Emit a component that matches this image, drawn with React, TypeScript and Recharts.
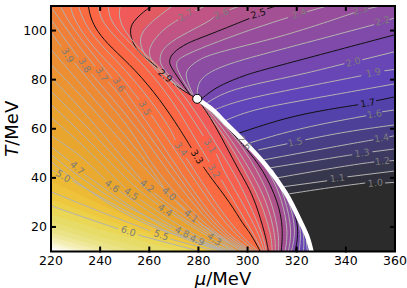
import {
  Label,
  ReferenceDot,
  Scatter,
  ScatterChart,
  XAxis,
  YAxis,
} from 'recharts';

type Pt = [number, number];
type Segs = Pt[][];

const FONT = '"DejaVu Sans", sans-serif';

const xTicks = [220, 240, 260, 280, 300, 320, 340, 360];
const yTicks = [20, 40, 60, 80, 100];
const innerXTicks = [240, 260, 280, 300, 320, 340];
const frame: Pt[] = [[220, 10], [360, 10], [360, 110], [220, 110], [220, 10]];
const TICK_LEN = 1.6; // in axis units, about 4px on both axes

// ── contours, [mu, T], one list per gap-separated piece ──
// part above / right of the phase line
const r10: Segs = [[[317, 33.5], [333.7, 36.1], [347.9, 37.9]], [[356, 37.9], [360, 38.2]]];
const r11: Segs = [[[314.1, 36.3], [332.4, 38.8]], [[340.6, 40.4], [360, 42.8]]];
const r12: Segs = [[[312.1, 40], [339.8, 44.9], [351.6, 46.5]], [[357.7, 46.9], [360, 47.1]]];
const r13: Segs = [[[309.3, 44.1], [339.8, 49], [342.6, 49.4]], [[350.8, 50.6], [360, 51.8]]];
const r14: Segs = [[[306.4, 47.3], [339.8, 53.5], [351.2, 55.5]], [[357.7, 56.7], [360, 57.2]]];
const r15: Segs = [[[304.4, 51.4], [316.2, 53.9]], [[323.5, 55.5], [339.8, 58.8], [360, 61.6]]];
const r16: Segs = [[[301.1, 54.3], [321.5, 60.4], [348.3, 65.3]], [[354.8, 66.9], [360, 67.7]]];
const r17: Segs = [[[296.7, 58.3], [315.4, 64.5], [331.6, 67.7], [345, 69.8]], [[352.3, 71.4], [360, 73]]];
const r18: Segs = [[[289.7, 62.8], [301.1, 67.7], [321.5, 71.4], [360, 78.3]]];
const r19: Segs = [[[286.5, 67.7], [297, 71.8], [321.5, 76.7], [346.3, 81.6]], [[355.7, 83.6], [360, 84.2]]];
const r20: Segs = [[[283.6, 70.6], [290.9, 75.1], [305.1, 78.7], [321.5, 82], [339.4, 86.5]], [[346.7, 88.1], [360, 91.4]]];
const r21: Segs = [[[280.8, 71.8], [284.8, 75.1], [289.3, 77.9], [299.1, 82], [309.7, 84.9], [360, 98.3]]];
const r22: Segs = [[[279.5, 73], [279.5, 78], [282.8, 82.4], [293, 86.9], [313.3, 92.2], [351.5, 102.4]], [[357.7, 104.4], [360, 105.3]]];
const r23: Segs = [[[277.9, 73.8], [274.7, 80.8], [275.1, 84], [278.8, 87.3], [284.8, 90.6], [313.3, 97.1], [343.5, 107.3]], [[349.1, 108.9], [354, 110]]];
const r24: Segs = [[[277.4, 73.8], [271.8, 82.8], [270.6, 86.9], [272.6, 89], [277.9, 91.4], [282.4, 93.4], [301.1, 100.4], [316.5, 105.3]], [[324.3, 107.7], [331.6, 109.8]]];
const r25: Segs = [[[276.6, 73.8], [269.4, 84.1], [267.7, 87.3], [269.4, 91], [275.4, 95], [282.4, 97.5], [300.7, 104.9]], [[308, 108.9], [311.7, 110]]];
const r26: Segs = [[[275.4, 74.7], [265.3, 84.1], [263.7, 88.9], [266.5, 94.2], [275.4, 99.2], [284.8, 104], [286.5, 105.7]], [[292.6, 108.5], [297, 110]]];
const r27: Segs = [[[273.8, 75.5], [262.4, 84.9], [259.6, 90.2], [260.4, 94.2], [265.3, 100.4], [271.8, 104.4]], [[278.7, 108.1], [282.8, 110]]];
const r28: Segs = [[[272.6, 76.7], [264.5, 83.2], [259.2, 88.1], [255.5, 95], [257.6, 101.2], [269.4, 110]]];
const r29: Segs = [[[279.5, 72.2], [276.6, 73.8], [269.7, 78.3]], [[263.3, 84.9], [259.6, 88.1], [254.3, 92.2], [251.8, 99.2], [253, 103.6], [259.6, 109.3], [261.6, 110]]];

// part below / left of the phase line, low values first
const w18: Segs = [[[323.9, 14.7], [324.3, 10]]];
const w19: Segs = [[[322.3, 19.6], [323.1, 14.7], [322.7, 10]]];
const w20: Segs = [[[320.2, 24.5], [321.9, 18], [321, 10]]];
const w21: Segs = [[[318.2, 28.6], [321.1, 19.2], [319.4, 10]]];
const w22: Segs = [[[314.1, 36.3], [317.4, 29], [319.8, 18.4], [317.8, 10]]];
const w23: Segs = [[[310.1, 43.3], [315.4, 31.8], [318.2, 18.4], [316.6, 10]]];
const w24: Segs = [[[300.2, 53], [309.2, 42.4], [314.1, 31], [316.6, 18.4], [315.3, 10]]];
const w25: Segs = [[[279.5, 72.2], [288.9, 63.7], [299, 52.6], [306.4, 43.3], [312.5, 30.2], [314.5, 19.6], [313.7, 10]]];
const w26: Segs = [[[279.5, 72.2], [287.3, 64.9], [295.4, 56.3], [303.9, 43.3], [310, 30.2], [312.9, 16.7], [312.5, 10]]];
const w27: Segs = [[[279.5, 72.2], [285.7, 65.7], [293.4, 55.5], [301.1, 43.3], [308, 30.2], [311.3, 16.7], [311.3, 10]]];
const w28: Segs = [[[279.5, 72.2], [283.6, 66.5], [291.8, 55.5], [298.7, 43.3], [305.6, 30.2], [309.7, 16.7], [310, 10]]];
const w29: Segs = [[[279.5, 72.2], [284.8, 64.9], [291, 53.4], [296.3, 43.3], [299.9, 37.1], [303.2, 30.2], [307.3, 16.7], [308.5, 10]]];

const l30: Segs = [[[248.2, 110], [247.4, 105.3], [250.2, 99.2], [256.3, 92.2], [263.7, 85.7], [275.9, 71.8], [287.7, 53], [294.2, 42.4], [297, 37.1], [302.3, 26.1], [306.4, 15.9], [307.6, 10]]];
const l31: Segs = [[[243.3, 110], [243.7, 105.3], [247.4, 99.6], [254.3, 93], [261.2, 86.1], [272.6, 71.8], [282, 57.1]], [[287.3, 49.8], [290.5, 42.4], [293.8, 37.1], [299.9, 26.1], [304.8, 16.7], [306.8, 10]]];
const l32: Segs = [[[239.3, 110], [240.1, 105.3], [243.3, 100.4], [250.2, 93.4], [258.4, 85.3], [269.4, 71.8], [280.4, 53], [284.4, 46.5]], [[289.3, 39.2], [297, 26.1], [302.7, 16.7], [306, 10]]];
const l33: Segs = [[[235.2, 110], [236, 105.3], [238.8, 99.6], [244.1, 93.4], [254.3, 84.1], [264.5, 71.8], [272.6, 59.6], [277.1, 52.2]], [[282, 44.5], [284.8, 40.4], [293, 29.8], [298.3, 20.8], [301.1, 17.6], [305.2, 10]]];
const l34: Segs = [[[231.1, 110], [232.7, 105.3], [236, 99.2], [242.1, 92.2], [250.2, 84.1], [260.4, 71.8], [268.5, 60.3], [270.6, 55.4]], [[275, 48.1], [280.8, 39.2], [288.9, 26.9], [297, 16.7], [304.4, 10]]];
const l35: Segs = [[[227.9, 110], [229.1, 105.3], [232.7, 99.2], [238.8, 91.4], [247.4, 82.8], [255.9, 71.8]], [[260.8, 65.7], [268.5, 54.3], [276.6, 42], [284.8, 29.8], [293.7, 18], [303.2, 10]]];
const l36: Segs = [[[223.8, 110], [226.2, 105.3], [231.1, 97.9], [238, 89.3], [245, 80.4]], [[249.8, 75.9], [256.3, 66.5], [264.5, 54.7], [273.4, 41.2], [282, 29], [292.1, 16.7], [302.3, 10]]];
const l37: Segs = [[[220.1, 109.3], [223.8, 104.4], [229.9, 95.5], [238, 85.3]], [[243.3, 79.2], [250.2, 71], [260.4, 56.7], [270.6, 42.4], [279.5, 29.8], [290.5, 16.7], [301.5, 10]]];
const l38: Segs = [[[220.1, 104.4], [225.8, 96.3], [231.1, 89]], [[236.4, 82.4], [244.1, 73.4], [256.3, 58.8], [266.5, 44.1], [276.6, 31], [288.9, 16.7], [300.7, 10]]];
const l39: Segs = [[[220.1, 99.2], [224.2, 93.4]], [[229.5, 86.9], [238, 76.7], [252.3, 60.4], [260.4, 46.1], [271.8, 32.2], [287.2, 16.7], [299.9, 10]]];
const l40: Segs = [[[220.1, 92.2], [229.9, 80.8], [244.1, 64.5], [256.3, 50.2], [265.7, 36.3]], [[271, 30.6], [285.6, 16.7], [298.7, 10]]];
const l41: Segs = [[[220.1, 86.1], [232, 73.8], [248.2, 55.4], [260.4, 41.2], [274.7, 26.5]], [[279.9, 22], [290.9, 14.7], [297.4, 10]]];
const l42: Segs = [[[220.1, 80.8], [232, 68.5], [244.1, 54.3], [256.7, 39.2]], [[262, 33.9], [276.6, 22.8], [296, 10]]];
const l43: Segs = [[[220.1, 75.1], [232, 63.7], [244.1, 50.6], [258.4, 35.1], [272.6, 23.7], [284, 17.1]], [[289.3, 13.5], [295.2, 10]]];
const l44: Segs = [[[220.1, 69.8], [232, 58.8], [244.1, 46.1], [256.3, 34.3], [263.7, 29]], [[269.3, 25.3], [282.8, 16.7], [294.4, 10]]];
const l45: Segs = [[[220.1, 64.5], [232, 54.3], [242.1, 44.1], [250.2, 35.9]], [[255.9, 31.4], [268.5, 22.8], [280.8, 15.5], [293.7, 10]]];
const l46: Segs = [[[220.1, 57.1], [232, 49.4], [242.1, 39.2]], [[247.8, 34.7], [260.4, 25.7], [276.6, 15.9], [292.9, 10]]];
const l47: Segs = [[[220.1, 52.6], [227.9, 46.5]], [[233.5, 41.6], [244.1, 33.9], [260.4, 22.9], [276.6, 14.3], [292.1, 10]]];
const l48: Segs = [[[220.1, 49.4], [232, 40], [248.2, 29], [269.3, 19.6]], [[275.9, 16.3], [291.3, 10]]];
const l49: Segs = [[[220.1, 46.5], [232, 37.1], [248.2, 26.1], [264.5, 18.4], [275.6, 15.5]], [[282.6, 13], [290.5, 10]]];
const l50: Segs = [[[220.1, 43.3], [221.8, 42.4]], [[228.7, 38.8], [240.1, 32.2], [256.3, 23.3], [272.6, 15.5], [289.7, 10]]];
const l55: Segs = [[[220.1, 34.3], [240.1, 26.1], [260.4, 18.4]], [[268.5, 15.1], [287.3, 10]]];
const l60: Segs = [[[220.1, 28.6], [233.9, 23.7], [247.4, 19.2]], [[255.5, 16.7], [280.8, 10]]];

// steps of the colouring with no line drawn
const f525: Segs = [[[220.1, 38.4], [240.1, 29], [264.5, 18.4], [288.9, 10]]];
const f575: Segs = [[[220.1, 31], [244.1, 22], [283.5, 10]]];
const f63: Segs = [[[220.1, 25], [240.1, 18.8], [272, 10]]];
const f65: Segs = [[[220.1, 22], [240.1, 15.9], [262, 10]]];
const f68: Segs = [[[220.1, 20], [236, 15], [254, 10]]];
const f72: Segs = [[[220.1, 17.5], [236, 13], [247, 10]]];
const f76: Segs = [[[220.1, 15.8], [232, 12.4], [241, 10]]];
const f80: Segs = [[[220.1, 14.2], [228, 11.8], [236, 10]]];
const f85: Segs = [[[220.1, 12.9], [231, 10]]];
const f90: Segs = [[[220.1, 11.6], [226, 10]]];

const phaseLine: Pt[] = [[279.5, 72.2], [284.8, 68.5], [291, 62.4], [299.1, 54.3], [307.3, 45.3], [315.5, 33.9], [321.6, 22], [324.5, 15.5], [326, 10]];
const critical = { mu: 279.5, T: 72.2 };

const rightLevels = [r10, r11, r12, r13, r14, r15, r16, r17, r18, r19, r20, r21, r22, r23, r24, r25, r26, r27, r28, r29];
const rightFills = ['#30303c', '#36364c', '#3c3a60', '#423c72', '#473e85', '#4c4098', '#5242aa', '#5843b5', '#6044ba', '#6946b6', '#7448b0', '#7f4aa9', '#8b4ca2', '#974d9b', '#a35094', '#b0528c', '#c05484', '#d0567a', '#e25a62', '#f05a58'];
const rightBlack = [r17, r21, r25, r29];

const leftLevels = [w18, w19, w20, w21, w22, w23, w24, w25, w26, w27, w28, w29, l30, l31, l32, l33, l34, l35, l36, l37, l38, l39, l40, l41, l42, l43, l44, l45, l46, l47, l48, l49, l50, f525, l55, f575, l60, f63, f65, f68, f72, f76, f80, f85, f90];
const leftFills = ['#6044ba', '#6946b6', '#7448b0', '#7f4aa9', '#8b4ca2', '#974d9b', '#a35094', '#b0528c', '#c05484', '#d0567a', '#e25a62', '#f05a58', '#f85f4e', '#fa6248', '#fb6644', '#fa6b41', '#f8713e', '#f6763b', '#f37b39', '#f08037', '#ee8536', '#ed8a34', '#ec8f33', '#eb9431', '#ea9930', '#e99e2f', '#e9a22e', '#e9a62e', '#e9aa2f', '#eaae30', '#ebb232', '#ecb634', '#edba36', '#eec23a', '#eec93f', '#ecd04a', '#ead756', '#e8dc68', '#e8df76', '#ebe387', '#efe89c', '#f3edb2', '#f7f3c8', '#fbf8e0', '#ffffff'];
const leftLines = [w18, w19, w20, w21, w22, w23, w24, w25, w26, w27, w28, w29, l30, l31, l32, l33, l34, l35, l36, l37, l38, l39, l40, l41, l42, l43, l44, l45, l46, l47, l48, l49, l50, l55, l60];
const leftBlack = [w21, w25, w29, l33];

// contour labels
const labelText = ['3.9', '3.8', '3.7', '3.6', '3.5', '3.4', '3.3', '3.2', '3.1', '2.9', '2.7', '2.6', '2.5', '2.4', '2.3', '2.2', '2.0', '1.9', '1.7', '1.6', '1.5', '1.4', '1.3', '1.2', '1.1', '1.0', '2.6', '4.7', '5.0', '4.6', '4.5', '4.2', '4.0', '4.4', '4.1', '4.8', '4.9', '4.3', '5.5', '6.0'];
const labelMu = [226.8, 233.8, 240.7, 247.7, 258.3, 273, 279.5, 286.4, 284.8, 266.5, 274.7, 289.3, 304.3, 321, 345.9, 354.9, 343, 351.2, 348.9, 351.6, 319.4, 354.5, 346.6, 354.8, 336.5, 352, 298.9, 230.7, 225, 244.9, 252.7, 259.2, 268.1, 266.5, 277.1, 273.4, 279.5, 286.5, 264.9, 251.5];
const labelT = [90, 85.9, 82.2, 78, 68.5, 51.8, 48.6, 42.8, 53, 81.6, 106.5, 107, 107, 107, 108.5, 104, 87.3, 83, 70.6, 66.1, 54.7, 56.3, 50.2, 46.9, 40, 38, 54.4, 44.1, 40.8, 36.7, 33.5, 36.7, 33.5, 26.9, 24.5, 18, 14.7, 15.1, 16.7, 18.4];
const labelAngle = [60, 60, 60, 60, 60, 55, 58, 58, 58, 40, -30, -22, -18, -20, -15, -14, -15, -12, -10, -10, -11, -10, -8, -7, -7, -5, 50, 42, 32, 35, 35, 38, 40, 36, 38, 25, 23, 35, 20, 18];
const labelDark = ['3.3', '2.9', '2.5', '1.7'];

const chartLabels = labelText.map((text, i) => ({
  mu: labelMu[i],
  T: labelT[i],
  text,
  angle: labelAngle[i],
  dark: labelDark.includes(text),
}));

const toRows = (pts: Pt[]) => pts.map(([mu, T]) => ({ mu, T }));
const noDot = () => <g />;

function RotatedLabel(props: any) {
  const { cx, cy, payload } = props;
  return (
    <text
      x={cx}
      y={cy}
      fontSize={9.5}
      fontFamily={FONT}
      textAnchor="middle"
      dominantBaseline="central"
      fill={payload.dark ? '#111' : '#7c7c7c'}
      transform={`rotate(${payload.angle} ${cx} ${cy})`}
    >
      {payload.text}
    </text>
  );
}

function fillShape(key: string, pts: Pt[], color: string) {
  return (
    <Scatter
      key={key}
      data={toRows(pts)}
      isAnimationActive={false}
      shape={noDot}
      line={{ fill: color, stroke: color, strokeWidth: 0.5 }}
      lineType="joint"
    />
  );
}

function contourLines(key: string, segs: Segs, color: string) {
  return segs.map((seg, i) => (
    <Scatter
      key={`${key}-${i}`}
      data={toRows(seg)}
      isAnimationActive={false}
      shape={noDot}
      line={{ stroke: color, strokeWidth: 1, fill: 'none' }}
      lineType="joint"
      lineJointType="basis"
    />
  ));
}

// axes sit under the series in this build, so frame and ticks are drawn as series on top
function blackLine(key: string, pts: Pt[]) {
  return (
    <Scatter
      key={key}
      data={toRows(pts)}
      isAnimationActive={false}
      shape={noDot}
      line={{ stroke: '#000', strokeWidth: 2, fill: 'none', strokeLinecap: 'square' }}
      lineType="joint"
    />
  );
}

const flat = (segs: Segs): Pt[] => segs.flat();

export default function App() {
  return (
    <div style={{ position: 'absolute', left: 0, top: 0, width: 407, height: 288, background: '#fff' }}>
      <ScatterChart width={407} height={288} margin={{ top: 6, right: 12, bottom: 0, left: 0 }}>
        {fillShape('base', [[220, 10], [360, 10], [360, 110], [220, 110]], '#2b2b2b')}
        {rightLevels.map((c, i) => {
          const pts = flat(c);
          const last = pts[pts.length - 1];
          const corner: Pt[] = last[0] === 360 ? [[360, 110], [220, 110]] : [[220, 110]];
          return fillShape(`rf${i}`, [...pts, ...corner], rightFills[i]);
        })}
        {fillShape('wedge', [...phaseLine, [220, 10], [220, 110]], '#5843b5')}
        {leftLevels.map((c, i) => fillShape(`lf${i}`, [...flat(c), [220, 10], [220, 110]], leftFills[i]))}

        {rightLevels.map((c, i) =>
          contourLines(`rl${i}`, c, rightBlack.includes(c) ? '#111' : '#b4b2b0'),
        )}
        {leftLines.map((c, i) =>
          contourLines(`ll${i}`, c, leftBlack.includes(c) ? '#111' : '#b4b2b0'),
        )}

        <Scatter
          data={toRows(phaseLine)}
          isAnimationActive={false}
          shape={noDot}
          line={{ stroke: '#fff', strokeWidth: 4.5, fill: 'none' }}
          lineType="joint"
          lineJointType="monotoneY"
        />
        <Scatter data={chartLabels} isAnimationActive={false} shape={RotatedLabel} />
        <ReferenceDot x={critical.mu} y={critical.T} r={4.5} fill="#fff" stroke="#000" strokeWidth={1} />

        {blackLine('frame', frame)}
        {innerXTicks.map((x) => blackLine(`bt${x}`, [[x, 10], [x, 10 + TICK_LEN]]))}
        {innerXTicks.map((x) => blackLine(`tt${x}`, [[x, 110], [x, 110 - TICK_LEN]]))}
        {yTicks.map((y) => blackLine(`lt${y}`, [[220, y], [220 + TICK_LEN, y]]))}
        {yTicks.map((y) => blackLine(`rt${y}`, [[360, y], [360 - TICK_LEN, y]]))}

        <XAxis
          dataKey="mu"
          type="number"
          domain={[220, 360]}
          ticks={xTicks}
          height={36.5}
          tickSize={-4}
          tickMargin={9}
          interval={0}
          tick={{ fill: '#000', fontSize: 12.5, fontFamily: FONT }}
          tickLine={false}
          axisLine={false}
        >
          <Label
            content={({ viewBox }: any) => (
              <text x={viewBox.x + viewBox.width / 2} y={285} textAnchor="middle" fontSize={18} fontFamily={FONT} fill="#000">
                <tspan fontStyle="italic">μ</tspan>/MeV
              </text>
            )}
          />
        </XAxis>
        <YAxis
          dataKey="T"
          type="number"
          domain={[10, 110]}
          ticks={yTicks}
          width={51}
          tickSize={-4}
          tickMargin={8}
          interval={0}
          tick={{ fill: '#000', fontSize: 12.5, fontFamily: FONT }}
          tickLine={false}
          axisLine={false}
        >
          <Label
            content={({ viewBox }: any) => {
              const cy = viewBox.y + viewBox.height / 2;
              return (
                <text x={18} y={cy} textAnchor="middle" fontSize={18} fontFamily={FONT} fill="#000" transform={`rotate(-90 18 ${cy})`}>
                  <tspan fontStyle="italic">T</tspan>/MeV
                </text>
              );
            }}
          />
        </YAxis>
      </ScatterChart>
    </div>
  );
}
